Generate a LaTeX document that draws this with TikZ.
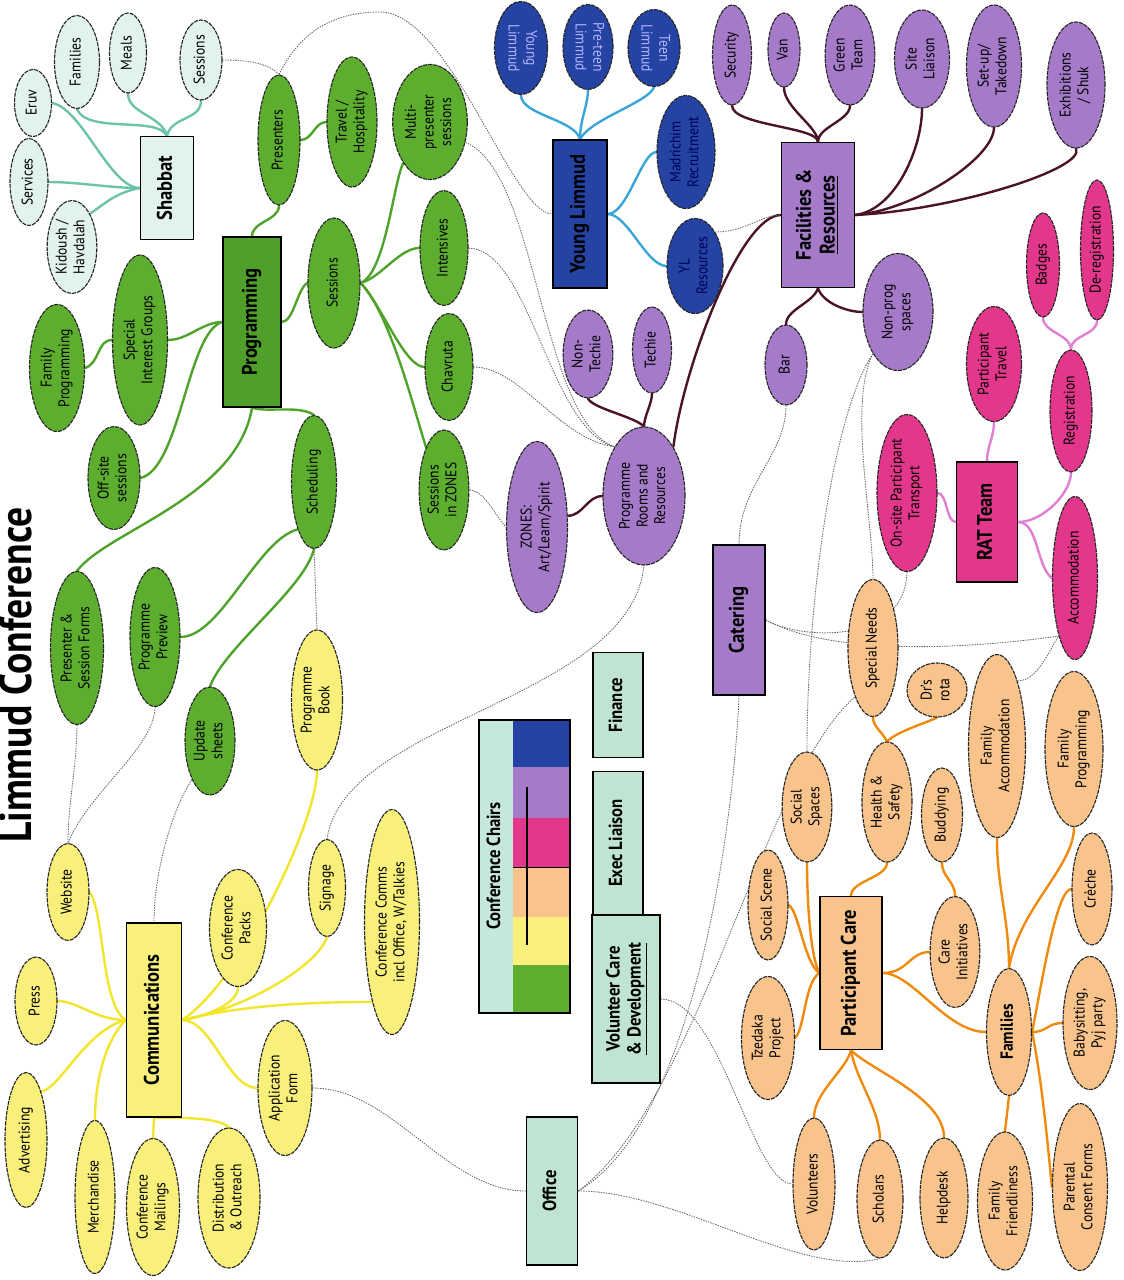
\documentclass[tikz,border=0pt]{standalone}
\usepackage{fontspec}
\setmainfont{PT Sans}[FakeStretch=0.88]
\usepackage{graphicx}
\usetikzlibrary{shapes.geometric,backgrounds}
\definecolor{shabfill}{HTML}{E1F3EC}
\definecolor{shabline}{HTML}{6DC3A9}
\definecolor{progfill}{HTML}{5DAE2E}
\definecolor{proghub}{HTML}{4F9F2A}
\definecolor{progline}{HTML}{4FA22A}
\definecolor{ylfill}{HTML}{2443A3}
\definecolor{ylline}{HTML}{3AA5D8}
\definecolor{facfill}{HTML}{A57BC9}
\definecolor{facline}{HTML}{4A1328}
\definecolor{ratfill}{HTML}{E2378B}
\definecolor{ratline}{HTML}{E07FD2}
\definecolor{pcfill}{HTML}{F8C48C}
\definecolor{pcline}{HTML}{F08A0E}
\definecolor{comfill}{HTML}{F8F07A}
\definecolor{comline}{HTML}{F2E62A}
\definecolor{mintfill}{HTML}{BFE4D2}
\definecolor{chairhead}{HTML}{C6E7DC}
\tikzset{
  blob/.style   = {ellipse, draw=black!85, line width=0.8pt, dash pattern=on 3pt off 0.7pt,
                   inner sep=0pt, font=\fontsize{11}{12.5}\selectfont},
  shb/.style    = {blob, fill=shabfill},
  grn/.style    = {blob, fill=progfill},
  ylb/.style    = {blob, fill=ylfill},
  fac/.style    = {blob, fill=facfill},
  ratb/.style   = {blob, fill=ratfill},
  pcb/.style    = {blob, fill=pcfill},
  cmb/.style    = {blob, fill=comfill},
  hub/.style    = {rectangle, draw=black, line width=1pt, inner sep=0pt,
                   font=\bfseries\fontsize{15}{17}\selectfont},
  mintbox/.style = {hub, fill=mintfill, font=\bfseries\fontsize{13.5}{15}\selectfont},
  lnk/.style    = {line width=1.7pt, line cap=round},
  shl/.style    = {lnk, draw=shabline},
  pgl/.style    = {lnk, draw=progline},
  yll/.style    = {lnk, draw=ylline},
  fcl/.style    = {lnk, draw=facline},
  rtl/.style    = {lnk, draw=ratline},
  pcl/.style    = {lnk, draw=pcline},
  cml/.style    = {lnk, draw=comline},
  xl/.style     = {draw=black!60, line width=0.6pt, dash pattern=on 1pt off 0.8pt},
}
\tikzset{sz/.style n args={2}{minimum width=#1*0.25mm,minimum height=#2*0.25mm}}
\newcommand{\vtxt}[1]{\rotatebox{90}{\begin{tabular}{@{}c@{}}#1\end{tabular}}}
\newcommand{\vtxtd}[1]{\rotatebox{-90}{\begin{tabular}{@{}c@{}}#1\end{tabular}}}

\begin{document}
\begin{tikzpicture}[x=0.25mm, y=-0.25mm]
  \useasboundingbox (0,0) rectangle (1124,1280);

  \node[anchor=east, inner sep=0pt, font=\bfseries\fontsize{32}{32}\selectfont] (ttl) at (32,675) {\rotatebox{90}{Limmud Conference}};

  % Shabbat
  \node[shb, sz={37}{67}] (eruv) at (33,103) {\vtxt{Eruv}};
  \node[shb, sz={45}{93}] (shfam) at (77,62) {\vtxt{Families}};
  \node[shb, sz={37}{80}] (meals) at (128,53) {\vtxt{Meals}};
  \node[shb, sz={42}{80}] (shsess) at (201,60) {\vtxt{Sessions}};
  \node[shb, sz={38}{87}] (servs) at (29,182) {\vtxt{Services}};
  \node[shb, sz={49}{93}] (kidd) at (72,247) {\vtxt{Kidoush /\\Havdalah}};
  \node[hub, fill=shabfill, sz={53}{103}] (shab) at (167,188) {\vtxt{Shabbat}};

  % Programming
  \node[grn, sz={42}{130}] (pres) at (279,140) {\vtxt{Presenters}};
  \node[grn, sz={50}{130}] (trav) at (352,122) {\vtxt{Travel /\\Hospitality}};
  \node[grn, sz={64}{115}] (multi) at (430,122) {\vtxt{Multi-\\presenter\\sessions}};
  \node[hub, fill=proghub, sz={58}{170}] (prog) at (252,322) {\vtxt{Programming}};
  \node[grn, sz={52}{130}] (sess) at (334,283) {\vtxt{Sessions}};
  \node[grn, sz={48}{115}] (intens) at (444,248) {\vtxt{Intensives}};
  \node[grn, sz={48}{107}] (chav) at (449,367) {\vtxt{Chavruta}};
  \node[grn, sz={48}{120}] (szones) at (444,490) {\vtxt{Sessions\\in ZONES}};
  \node[grn, sz={45}{133}] (sched) at (314,482) {\vtxt{Scheduling}};
  \node[grn, sz={55}{127}] (famprog) at (57,368) {\vtxt{Family\\Programming}};
  \node[grn, sz={55}{170}] (sig) at (140,340) {\vtxt{Special\\Interest Groups}};
  \node[grn, sz={52}{103}] (offsite) at (114,478) {\vtxt{Off-site\\sessions}};
  \node[grn, sz={53}{153}] (psforms) at (77,648) {\vtxt{Presenter \&\\Session Forms}};
  \node[grn, sz={50}{139}] (ppreview) at (155,637) {\vtxt{Programme\\Preview}};
  \node[grn, sz={50}{108}] (upd) at (210,741) {\vtxt{Update\\sheets}};

  % Young Limmud
  \node[ylb, sz={53}{93}, text=white!70!blue] (ylim) at (521,48) {\vtxtd{Young\\Limmud}};
  \node[ylb, sz={50}{85}, text=white!70!blue] (preteen) at (588,47) {\vtxtd{Pre-teen\\Limmud}};
  \node[ylb, sz={52}{77}, text=white!70!blue] (teen) at (654,48) {\vtxtd{Teen\\Limmud}};
  \node[hub, fill=ylfill, sz={54}{148}] (ylbox) at (580,214) {\vtxt{Young Limmud}};
  \node[ylb, sz={58}{113}, text=black!65!blue] (madr) at (686,152) {\vtxt{Madrichim\\Recruitment}};
  \node[ylb, sz={56}{95}, text=black!65!blue] (ylres) at (695,266) {\vtxt{YL\\Resources}};

  % Facilities & Resources
  \node[fac, sz={39}{100}] (secur) at (732,55) {\vtxt{Security}};
  \node[fac, sz={32}{74}] (van) at (784,50) {\vtxt{Van}};
  \node[fac, sz={46}{100}] (green) at (850,55) {\vtxt{Green\\Team}};
  \node[fac, sz={55}{98}] (site) at (922,59) {\vtxt{Site\\Liaison}};
  \node[fac, sz={55}{122}] (setup) at (994,66) {\vtxt{Set-up/\\Takedown}};
  \node[fac, sz={58}{126}] (exhib) at (1076,85) {\vtxt{Exhibitions\\/ Shuk}};
  \node[hub, fill=facfill, sz={73}{145}] (facil) at (818,215) {\vtxt{Facilities \&\\\underline{Resources}}};
  \node[fac, sz={45}{88}] (nontech) at (588,354) {\vtxt{Non-\\Techie}};
  \node[fac, sz={39}{86}] (techie) at (652,350) {\vtxt{Techie}};
  \node[fac, sz={42}{80}] (bar) at (786,365) {\vtxt{Bar}};
  \node[fac, sz={70}{117}] (nonprog) at (898,312) {\vtxt{Non-prog\\spaces}};
  \node[fac, sz={61}{171}] (zones) at (537,527) {\vtxt{ZONES:\\Art/Learn/Spirit}};
  \node[fac, sz={82}{138}] (prooms) at (644,496) {\vtxt{Programme\\Rooms and\\Resources}};
  \node[hub, fill=facfill, sz={52}{150}] (cater) at (739,620) {\vtxt{Catering}};

  % RAT Team
  \node[ratb, sz={33}{104}] (badges) at (1043,265) {\vtxt{Badges}};
  \node[ratb, sz={33}{140}] (dereg) at (1097,250) {\vtxt{De-registration}};
  \node[ratb, sz={55}{115}] (ptravel) at (994,364) {\vtxt{Participant\\Travel}};
  \node[ratb, sz={42}{122}] (regis) at (1071,411) {\vtxt{Registration}};
  \node[ratb, sz={60}{157}] (onsite) at (907,493) {\vtxt{On-site Participant\\Transport}};
  \node[hub, fill=ratfill, sz={61}{120}] (ratbox) at (987,522) {\vtxt{RAT Team}};
  \node[ratb, sz={45}{163}] (accom) at (1075,578) {\vtxt{Accommodation}};

  % Participant Care
  \node[pcb, sz={50}{137}] (specn) at (873,648) {\vtxt{Special Needs}};
  \node[pcb, sz={60}{54}] (drs) at (937,690) {\vtxt{Dr's\\rota}};
  \node[pcb, sz={50}{120}] (health) at (887,802) {\vtxt{Health \&\\Safety}};
  \node[pcb, sz={41}{94}] (budd) at (942,815) {\vtxt{Buddying}};
  \node[pcb, sz={57}{183}] (famacc) at (997,746) {\vtxt{Family\\Accommodation}};
  \node[pcb, sz={58}{155}] (famprg) at (1074,749) {\vtxt{Family\\Programming}};
  \node[pcb, sz={49}{110}] (socsp) at (807,807) {\vtxt{Social\\Spaces}};
  \node[pcb, sz={40}{110}] (socsc) at (768,905) {\vtxt{Social Scene}};
  \node[pcb, sz={53}{123}] (tzed) at (768,1038) {\vtxt{Tzedaka\\Project}};
  \node[hub, fill=pcfill, sz={62}{153}] (pcare) at (851,973) {\vtxt{Participant Care}};
  \node[pcb, sz={45}{111}] (carei) at (955,952) {\vtxt{Care\\Initiatives}};
  \node[pcb, sz={40}{112}] (creche) at (1092,889) {\vtxt{Crèche}};
  \node[pcb, sz={45}{127}, font=\bfseries\fontsize{12.5}{14}\selectfont] (families) at (1009,1032) {\vtxt{Families}};
  \node[pcb, sz={54}{133}] (babys) at (1090,1023) {\vtxt{Babysitting,\\Pyj party}};
  \node[pcb, sz={42}{132}] (volun) at (814,1184) {\vtxt{Volunteers}};
  \node[pcb, sz={46}{118}] (schol) at (880,1199) {\vtxt{Scholars}};
  \node[pcb, sz={48}{120}] (helpd) at (944,1198) {\vtxt{Helpdesk}};
  \node[pcb, sz={55}{138}] (famfr) at (1005,1201) {\vtxt{Family\\Friendliness}};
  \node[pcb, sz={55}{167}] (parent) at (1080,1187) {\vtxt{Parental\\Consent Forms}};

  % Communications
  \node[cmb, sz={42}{97}] (web) at (68,892) {\vtxt{Website}};
  \node[cmb, sz={42}{88}] (press) at (36,1001) {\vtxt{Press}};
  \node[cmb, sz={42}{135}] (advert) at (26,1140) {\vtxt{Advertising}};
  \node[cmb, sz={40}{153}] (merch) at (95,1197) {\vtxt{Merchandise}};
  \node[cmb, sz={53}{137}] (mail) at (153,1207) {\vtxt{Conference\\Mailings}};
  \node[cmb, sz={62}{140}] (distr) at (229,1198) {\vtxt{Distribution\\\& Outreach}};
  \node[hub, fill=comfill, sz={55}{194}] (comm) at (154,1020) {\vtxt{Communications}};
  \node[cmb, sz={57}{117}] (cpacks) at (238,928) {\vtxt{Conference\\Packs}};
  \node[cmb, sz={54}{135}] (appf) at (285,1088) {\vtxt{Application\\Form}};
  \node[cmb, sz={37}{97}] (sign) at (327,888) {\vtxt{Signage}};
  \node[cmb, sz={55}{225}] (ccomms) at (392,922) {\vtxt{Conference Comms\\incl Office, W/Talkies}};
  \node[cmb, sz={51}{140}] (pbook) at (317,700) {\vtxt{Programme\\Book}};

  % chairs and support boxes
  \fill[chairhead] (479,720) rectangle (513,1013);
  \fill[ylfill] (513,720) rectangle (570,767);
  \fill[facfill] (513,767) rectangle (570,818);
  \fill[ratfill] (513,818) rectangle (570,867);
  \fill[pcfill] (513,867) rectangle (570,917);
  \fill[comfill] (513,917) rectangle (570,965);
  \fill[progfill] (513,965) rectangle (570,1013);
  \draw[line width=0.6pt] (513,867) -- (570,867);
  \draw[line width=1pt] (479,720) rectangle (570,1013);
  \draw[line width=1pt] (527,787) -- (527,945);
  \node[font=\bfseries\fontsize{13.5}{15}\selectfont] (chairs) at (496,866) {\vtxt{Conference Chairs}};
  \node[mintbox, sz={50}{105}] (fin) at (618,705) {\vtxt{Finance}};
  \node[mintbox, sz={50}{143}] (exec) at (618,843) {\vtxt{Exec Liaison}};
  \node[mintbox, sz={68}{168}] (volcare) at (626,999) {\vtxt{Volunteer Care\\\underline{\& Development}}};
  \node[mintbox, sz={51}{148}] (office) at (552,1191) {\vtxt{Office}};

  \begin{scope}[on background layer]
    \fill[white] (0,0) rectangle (1124,1280);
    % Shabbat links
    \draw[shl] (shab.north) .. controls +(-10,-20) and +(10,25) .. (shfam.south);
    \draw[shl] (shab.north) .. controls +(-5,-20) and +(0,20) .. (meals.south);
    \draw[shl] (shab.north) .. controls +(5,-20) and +(0,20) .. (shsess.south);
    \draw[shl] (shab.west) .. controls +(-30,0) and +(30,5) .. (eruv.east);
    \draw[shl] (shab.west) .. controls +(-30,0) and +(30,0) .. (servs.east);
    \draw[shl] (shab.west) .. controls +(-25,5) and +(15,-10) .. (kidd.north east);
    % Programming links
    \draw[pgl] (prog.north) .. controls +(0,-15) and +(0,15) .. (pres.south);
    \draw[pgl] (pres.east) .. controls +(12,0) and +(-12,0) .. (trav.west);
    \draw[pgl] (prog.east) .. controls +(12,0) and +(-10,5) .. (sess.west);
    \draw[pgl] (sess.east) .. controls +(25,-10) and +(-10,20) .. (multi.south west);
    \draw[pgl] (sess.east) .. controls +(20,-5) and +(-20,0) .. (intens.west);
    \draw[pgl] (sess.east) .. controls +(20,20) and +(-20,0) .. (chav.west);
    \draw[pgl] (sess.east) .. controls +(30,30) and +(-10,-30) .. (szones.north west);
    \draw[pgl] (prog.west) .. controls +(-20,0) and +(20,0) .. (sig.east);
    \draw[pgl] (sig.west) .. controls +(-15,0) and +(15,-5) .. (famprog.east);
    \draw[pgl] (prog.west) .. controls +(-35,10) and +(40,-10) .. (offsite.east);
    \draw[pgl] (prog.south) .. controls +(-15,90) and +(30,-40) .. (psforms.north);
    \draw[pgl] (prog.south) .. controls +(15,5) and +(-15,-10) .. (sched.north);
    \draw[pgl] (sched.south west) .. controls +(-40,10) and +(40,0) .. (ppreview.east);
    \draw[pgl] (sched.south) .. controls +(-10,40) and +(15,-40) .. (upd.north);
    % Young Limmud links
    \draw[yll] (ylbox.north) .. controls +(-5,-20) and +(0,20) .. (ylim.south);
    \draw[yll] (ylbox.north) .. controls +(0,-20) and +(0,15) .. (preteen.south);
    \draw[yll] (ylbox.north) .. controls +(10,-20) and +(-5,15) .. (teen.south);
    \draw[yll] (ylbox.east) .. controls +(20,0) and +(-15,0) .. (madr.west);
    \draw[yll] (ylbox.east) .. controls +(20,0) and +(-20,0) .. (ylres.west);
    % Facilities links
    \draw[fcl] (facil.north) .. controls +(0,-15) and +(0,20) .. (secur.south);
    \draw[fcl] (facil.north) .. controls +(0,-15) and +(0,20) .. (van.south);
    \draw[fcl] (facil.north) .. controls +(0,-15) and +(0,15) .. (green.south);
    \draw[fcl] (facil.east) .. controls +(40,-5) and +(0,40) .. (site.south);
    \draw[fcl] (facil.east) .. controls +(60,-5) and +(0,30) .. (setup.south);
    \draw[fcl] (facil.east) .. controls +(100,-5) and +(10,20) .. (exhib.south);
    \draw[fcl] (facil.south) .. controls +(-5,15) and +(0,-15) .. (bar.north);
    \draw[fcl] (facil.south) .. controls +(5,15) and +(-15,0) .. (nonprog.west);
    \draw[fcl] (facil.west) .. controls +(-40,0) and +(10,-80) .. (prooms.north east);
    \draw[fcl] (prooms.north) .. controls +(-10,-10) and +(5,10) .. (nontech.south);
    \draw[fcl] (prooms.north) .. controls +(0,-10) and +(0,10) .. (techie.south);
    \draw[fcl] (zones.20) .. controls +(15,0) and +(-15,0) .. (prooms.west);
    % RAT links
    \draw[rtl] (ratbox.west) .. controls +(-10,0) and +(10,0) .. (onsite.east);
    \draw[rtl] (ratbox.north) .. controls +(0,-15) and +(0,15) .. (ptravel.south);
    \draw[rtl] (ratbox.east) .. controls +(25,0) and +(0,20) .. (regis.south);
    \draw[rtl] (ratbox.east) .. controls +(20,0) and +(-15,-10) .. (accom.west);
    \draw[rtl] (regis.north) .. controls +(0,-15) and +(0,15) .. (badges.south);
    \draw[rtl] (regis.north) .. controls +(0,-15) and +(0,15) .. (dereg.south);
    % Participant Care links
    \draw[pcl] (pcare.west) .. controls +(-15,-10) and +(10,5) .. (socsc.east);
    \draw[pcl] (pcare.west) .. controls +(-15,10) and +(10,-10) .. (tzed.east);
    \draw[pcl] (pcare.west) .. controls +(-10,-20) and +(0,30) .. (socsp.south);
    \draw[pcl] (pcare.south) .. controls +(-5,20) and +(0,-25) .. (volun.north);
    \draw[pcl] (pcare.south) .. controls +(5,30) and +(0,-30) .. (schol.north);
    \draw[pcl] (pcare.south) .. controls +(20,20) and +(0,-40) .. (helpd.north);
    \draw[pcl] (pcare.north) .. controls +(0,-15) and +(0,15) .. (health.south);
    \draw[pcl] (pcare.east) .. controls +(25,0) and +(-20,0) .. (carei.west);
    \draw[pcl] (pcare.east) .. controls +(30,0) and +(-40,0) .. (families.west);
    \draw[pcl] (budd.south) .. controls +(0,15) and +(0,-15) .. (carei.north);
    \draw[pcl] (health.north) .. controls +(-5,-10) and +(0,10) .. (specn.south);
    \draw[pcl] (health.north) .. controls +(10,-10) and +(-10,5) .. (drs.south);
    \draw[pcl] (families.north) .. controls +(0,-50) and +(0,50) .. (famacc.south);
    \draw[pcl] (families.north) .. controls +(10,-60) and +(0,40) .. (famprg.south);
    \draw[pcl] (families.east) .. controls +(10,-50) and +(-15,0) .. (creche.west);
    \draw[pcl] (families.east) .. controls +(15,0) and +(-15,0) .. (babys.west);
    \draw[pcl] (families.east) .. controls +(10,50) and +(-5,-50) .. (parent.west);
    \draw[pcl] (families.south) -- (famfr.north);
    % Communications links
    \draw[cml] (comm.west) .. controls +(-25,-15) and +(15,20) .. (web.east);
    \draw[cml] (comm.west) .. controls +(-30,0) and +(20,0) .. (press.east);
    \draw[cml] (comm.west) .. controls +(-40,10) and +(20,-5) .. (advert.north east);
    \draw[cml] (comm.west) .. controls +(-20,20) and +(0,-40) .. (merch.north);
    \draw[cml] (comm.south) -- (mail.north);
    \draw[cml] (comm.south) .. controls +(30,0) and +(-10,-10) .. (distr.north);
    \draw[cml] (comm.east) .. controls +(30,-5) and +(0,15) .. (cpacks.south);
    \draw[cml] (comm.east) .. controls +(60,-10) and +(-10,30) .. (sign.south);
    \draw[cml] (comm.east) .. controls +(60,-15) and +(-60,0) .. (ccomms.south west);
    \draw[cml] (comm.east) .. controls +(30,0) and +(-30,0) .. (appf.west);
    \draw[cml] (comm.east) .. controls +(60,-40) and +(0,50) .. (pbook.south);
    % cross links
    \draw[xl] (shsess.east) .. controls +(30,0) and +(-10,-10) .. (pres.north);
    \draw[xl] (pres.north) .. controls +(20,-40) and +(-50,0) .. (380,12) .. controls +(70,0) and +(-40,0) .. (ylbox.west);
    \draw[xl] (multi.-30) .. controls +(73,29) and +(-75,-27) .. (prooms.north west);
    \draw[xl] (intens.east) .. controls +(62,2) and +(-65,-17) .. (prooms.north west);
    \draw[xl] (chav.east) .. controls +(47,0) and +(-55,-7) .. (prooms.north west);
    \draw[xl] (szones.east) .. controls +(15,0) and +(-10,-10) .. (zones.west);
    \draw[xl] (sched.south) -- (pbook.north);
    \draw[xl] (psforms.south) .. controls +(0,40) and +(0,-40) .. (web.north);
    \draw[xl] (ppreview.south) .. controls +(0,40) and +(20,-50) .. (web.north);
    \draw[xl] (upd.south west) .. controls +(-20,30) and +(0,-50) .. (comm.north);
    \draw[xl] (sign.north) .. controls +(18,-120) and +(-14,135) .. (prooms.south);
    \draw[xl] (appf.east) .. controls +(80,0) and +(-80,0) .. (office.west);
    \draw[xl] (volcare.east) .. controls +(60,0) and +(-40,0) .. (volun.west);
    \draw[xl] (office.east) .. controls +(100,0) and +(-80,20) .. (schol.south);
    \draw[xl] (office.east) .. controls +(122,-71) and +(-4,105) .. (cater.south);
    \draw[xl] (office.east) .. controls +(122,-91) and +(-95,84) .. (specn.south west);
    \draw[xl] (bar.south) .. controls +(0,50) and +(0,-60) .. (cater.north);
    \draw[xl] (nonprog.south west) .. controls +(-40,60) and +(0,-150) .. (socsp.north);
    \draw[xl] (nonprog.south west) .. controls +(-25,50) and +(0,-60) .. (specn.north);
    \draw[xl] (onsite.south) .. controls +(-2,73) and +(35,20) .. (cater.east);
    \draw[xl] (cater.east) .. controls +(65,35) and +(-99,14) .. (accom.south west);
    \draw[xl] (famacc.north east) .. controls +(20,0) and +(-10,15) .. (accom.south west);
    \draw[xl] (ylres.north east) .. controls +(30,0) and +(-20,0) .. (facil.west);
  \end{scope}
\end{tikzpicture}
\end{document}
